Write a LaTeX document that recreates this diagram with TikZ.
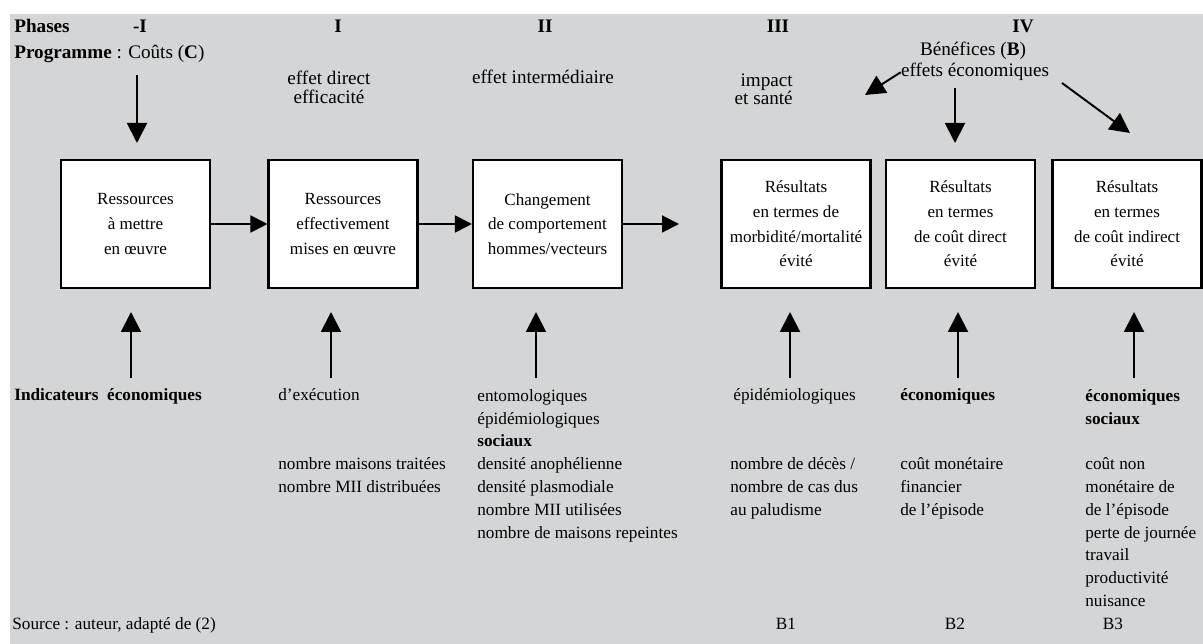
\documentclass[tikz,border=0pt]{standalone}
\usepackage{fontspec}
\setmainfont{Liberation Serif}
\usetikzlibrary{arrows.meta}
\definecolor{bggray}{RGB}{211, 213, 215}

\begin{document}
\begin{tikzpicture}[x = 0.02cm, y = -0.02cm,
	box/.style = {draw, very thick, fill = white, minimum width = 2.98cm, minimum height = 2.56cm, inner sep = 0pt, align = center, font = \fontsize{9.7}{14}\selectfont},
	up/.style = {line width = 1.1pt, -{Triangle[length = 0.4cm, width = 0.4cm]}},
	flow/.style = {line width = 1.1pt, -{Triangle[length = 0.34cm, width = 0.34cm]}},
	head/.style = {font = \fontsize{10.9}{10.8}\selectfont\bfseries, inner sep = 0pt, anchor = base},
	toptext/.style = {font = \fontsize{10.9}{10.8}\selectfont, inner sep = 0pt, align = center, anchor = base},
	lowtext/.style = {font = \fontsize{9.8}{12.97}\selectfont, inner sep = 0pt, align = left, anchor = base west},
	lowlist/.style = {lowtext, anchor = north west},
	lowbold/.style = {lowtext, font = \fontsize{9.8}{12.97}\selectfont\bfseries}]
	\useasboundingbox (0, 0) rectangle (1203, 644);
	\fill[bggray] (10, 14) rectangle (1203, 644);
	% phases
	\node[head, anchor = base west] (phases) at (14, 33) {Phases};
	\node[head] (ph0) at (140, 33) {-I};
	\node[head] (ph1) at (338, 33) {I};
	\node[head] (ph2) at (545, 33) {II};
	\node[head] (ph3) at (778, 33) {III};
	\node[head] (ph4) at (1023, 33) {IV};
	\node[toptext, anchor = base west] (prog) at (14, 59) {\textbf{Programme} : Coûts (\textbf{C})};
	\node[toptext, anchor = north] (effdir) at (329, 71) {effet direct\\efficacité};
	\node[toptext] (effint) at (543, 84) {effet intermédiaire};
	\node[toptext, align = right, anchor = north east] (impact) at (793, 73) {impact\\et santé};
	\node[toptext] (benef) at (973, 56) {Bénéfices (\textbf{B})};
	\node[toptext] (effeco) at (975, 77) {effets économiques};
	% boxes
	\node[box] (res) at (135.5, 224) {Ressources\\à mettre\\en œuvre};
	\node[box] (reseff) at (343, 224) {Ressources\\effectivement\\mises en œuvre};
	\node[box] (chgt) at (547.5, 224) {Changement\\de comportement\\hommes/vecteurs};
	\node[box] (morb) at (796, 224) {Résultats\\en termes de\\morbidité/mortalité\\évité};
	\node[box] (cdir) at (960.5, 224) {Résultats\\en termes\\de coût direct\\évité};
	\node[box] (cind) at (1127, 224) {Résultats\\en termes\\de coût indirect\\évité};
	\coordinate (gap3) at (679, 224);
	\draw[flow] (res) -- (reseff);
	\draw[flow] (reseff) -- (chgt);
	\draw[flow] (chgt) -- (gap3);
	% arrows from the top
	\coordinate (costtail) at (137, 75);
	\coordinate (costtip) at (137, 143);
	\coordinate (beneftail) at (955, 88);
	\coordinate (beneftip) at (955, 143);
	\coordinate (lefttip) at (865, 95);
	\coordinate (righttail) at (1062, 83);
	\coordinate (righttip) at (1130, 133);
	\draw[up] (costtail) -- (costtip);
	\draw[up] (beneftail) -- (beneftip);
	\draw[up] (effeco.west) -- (lefttip);
	\draw[up] (righttail) -- (righttip);
	% indicators
	\foreach \x/\n in {131/a, 331/b, 536/c, 790/d, 958/e, 1134/f}{
		\coordinate (low\n) at (\x, 378);
		\coordinate (tip\n) at (\x, 312);
		\draw[up] (low\n) -- (tip\n);
	}
	\node[lowbold] (indic) at (14, 401) {Indicateurs\enspace économiques};
	\node[lowtext] (exec) at (278, 401) {d’exécution};
	\node[lowlist] (execlist) at (278, 457.4) {nombre maisons traitées\\nombre MII distribuées};
	\node[lowlist] (entom) at (477, 389) {entomologiques\\épidémiologiques\\\textbf{sociaux}\\densité anophélienne\\densité plasmodiale\\nombre MII utilisées\\nombre de maisons repeintes};
	\node[lowtext] (epid) at (733, 401) {épidémiologiques};
	\node[lowlist] (epidlist) at (730, 457.4) {nombre de décès /\\nombre de cas dus\\au paludisme};
	\node[lowbold] (eco) at (900, 401) {économiques};
	\node[lowlist] (ecolist) at (900, 457.4) {coût monétaire\\financier\\de l’épisode};
	\node[lowbold, anchor = north west] (ecosoc) at (1085, 389) {économiques\\sociaux};
	\node[lowlist] (soclist) at (1085, 457.4) {coût non\\monétaire de\\de l’épisode\\perte de journée\\travail\\productivité\\nuisance};
	\node[lowtext] (source) at (12, 629) {Source : auteur, adapté de (2)};
	\node[lowtext, anchor = base] (bone) at (786, 629) {B1};
	\node[lowtext, anchor = base] (btwo) at (955, 629) {B2};
	\node[lowtext, anchor = base] (bthree) at (1113, 629) {B3};
\end{tikzpicture}
\end{document}
